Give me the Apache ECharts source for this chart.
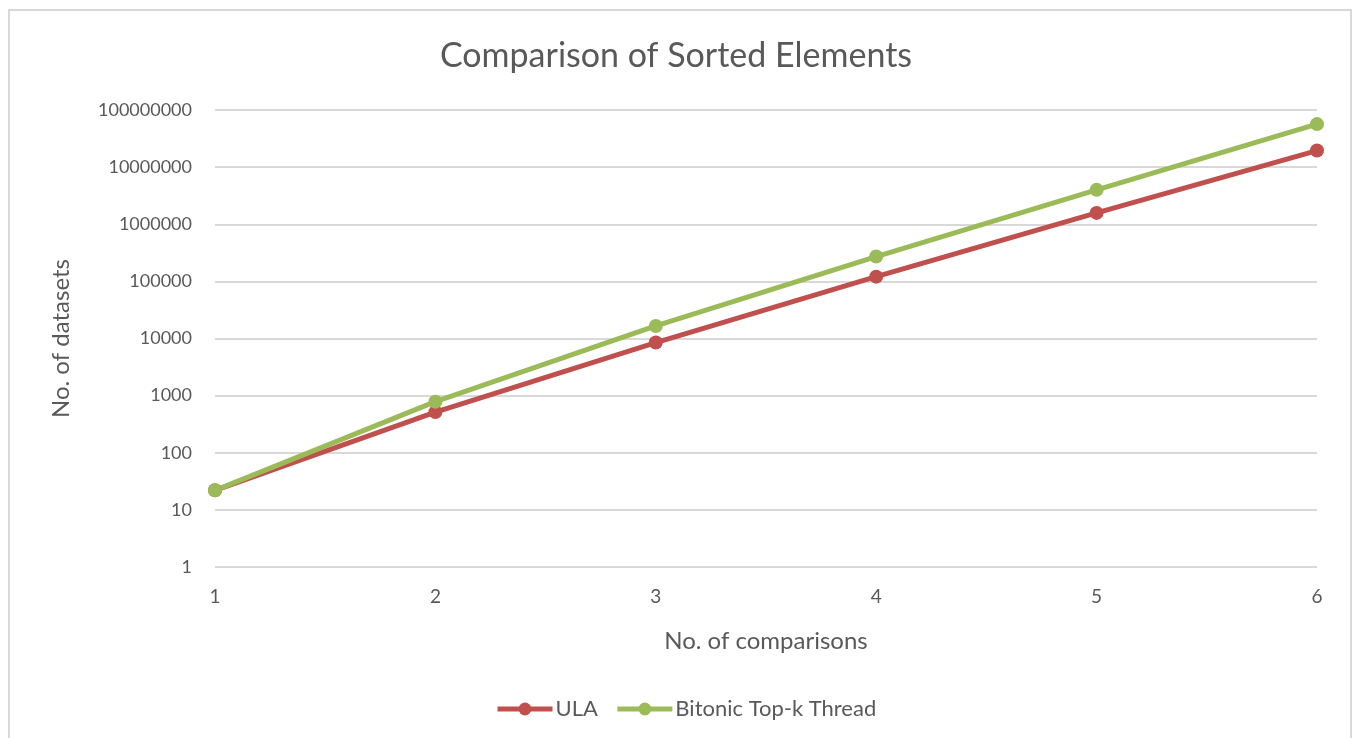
<!DOCTYPE html>
<html>
<head>
<meta charset="utf-8">
<script src="https://cdn.jsdelivr.net/npm/echarts@6/dist/echarts.min.js"></script>
<style>html,body{margin:0;padding:0;background:#fff;}#chart{width:1352px;height:738px;}</style>
</head>
<body>
<div id="chart"></div>
<script>
var categories = ['1', '2', '3', '4', '5', '6'];
var ulaValues = [22, 515, 8500, 121000, 1580000, 19500000];
var bitonicValues = [22, 785, 16600, 272000, 4000000, 56600000];
var seriesNames = ['ULA', 'Bitonic Top-k Thread'];
var titleText = 'Comparison of Sorted Elements';
var xAxisName = 'No. of comparisons';
var yAxisName = 'No. of datasets';

var FONT = 'Lato';
var TXT = '#595959';
var chart = echarts.init(document.getElementById('chart'));
chart.setOption({
  backgroundColor: '#fff',
  animation: false,
  graphic: [{
    type: 'rect', shape: {x: 9, y: 10, width: 1342, height: 740},
    style: {fill: 'none', stroke: '#D9D9D9', lineWidth: 2}, silent: true, z: -1
  }],
  title: {
    text: titleText, left: 'center', top: 34,
    textStyle: {fontFamily: FONT, fontSize: 34, fontWeight: 'normal', color: TXT}
  },
  legend: {
    bottom: 13, left: 490, itemWidth: 55, itemHeight: 16, itemGap: 17,
    textStyle: {fontFamily: FONT, fontSize: 22, color: TXT, padding: [0, 0, 0, -2]},
    lineStyle: {width: 5},
    data: seriesNames
  },
  grid: {left: 215, right: 35, top: 110, bottom: 171},
  xAxis: {
    type: 'category', data: categories, boundaryGap: false,
    name: xAxisName, nameLocation: 'middle', nameGap: 62,
    nameTextStyle: {fontFamily: FONT, fontSize: 24, color: TXT},
    axisLine: {show: false}, axisTick: {show: false},
    axisLabel: {fontFamily: FONT, fontSize: 19, color: TXT, margin: 20}
  },
  yAxis: {
    type: 'log', logBase: 10, min: 1, max: 100000000,
    name: yAxisName, nameLocation: 'middle', nameGap: 142, nameRotate: 90,
    nameTextStyle: {fontFamily: FONT, fontSize: 24, color: TXT},
    axisLine: {show: false}, axisTick: {show: false},
    axisLabel: {fontFamily: FONT, fontSize: 18, color: TXT, margin: 23, formatter: function (v) { return String(Math.round(v)); }},
    splitLine: {lineStyle: {color: '#D9D9D9', width: 2}}
  },
  series: [{
    name: seriesNames[0], type: 'line', data: ulaValues,
    symbol: 'circle', symbolSize: 14,
    lineStyle: {color: '#C0504D', width: 5}, itemStyle: {color: '#C0504D'}
  }, {
    name: seriesNames[1], type: 'line', data: bitonicValues,
    symbol: 'circle', symbolSize: 14,
    lineStyle: {color: '#9BBB59', width: 5}, itemStyle: {color: '#9BBB59'}
  }]
});
</script>
</body>
</html>
